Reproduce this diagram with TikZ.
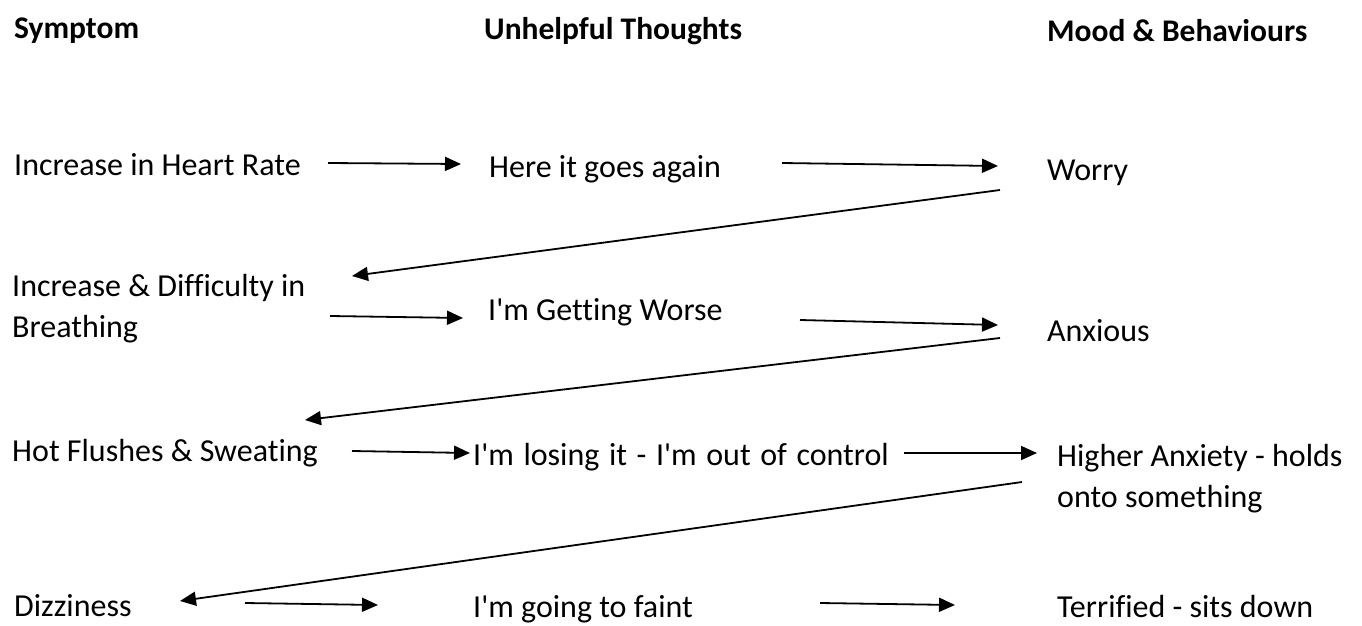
\documentclass[tikz,border=0pt]{standalone}
\usepackage{fontspec}
\setmainfont{Carlito}[Ligatures={TeXOff,CommonOff}]
\usetikzlibrary{arrows.meta}
\tikzset{
  txt/.style={inner sep=0pt, anchor=base west, font=\fontsize{32}{41}\selectfont, align=left},
  head/.style={txt, font=\fontsize{31.5}{41}\selectfont\bfseries},
  arr/.style={line width=1.8pt, -{Triangle[length=16pt,width=14pt]}},
}
\begin{document}
\begin{tikzpicture}[x=1pt,y=-1pt]
\useasboundingbox (0,0) rectangle (1362,626);
% headings
\node[head] (h1) at (14,38) {Symptom};
\node[head] (h2) at (484,40) {Unhelpful Thoughts};
\node[head] (h3) at (1047,42) {Mood \& Behaviours};
% rows
\node[txt] (s1) at (14,175) {Increase in Heart Rate};
\node[txt] (t1) at (489,177) {Here it goes again};
\node[txt] (m1) at (1047,180) {Worry};
\node[txt] (s2) at (12,337) {Increase \& Difficulty in\\Breathing};
\node[txt] (t2) at (488,320) {I'm Getting Worse};
\node[txt] (m2) at (1047,341) {Anxious};
\node[txt] (s3) at (12,461) {Hot Flushes \& Sweating};
\node[txt] (t3) at (473,465) {\spaceskip=0.3em\relax I'm losing it - I'm out of control};
\node[txt] (m3) at (1057,507) {Higher Anxiety - holds\\onto something};
\node[txt] (s4) at (14,616) {Dizziness};
\node[txt] (t4) at (473,617) {I'm going to faint};
\node[txt] (m4) at (1057,617) {Terrified - sits down};
% arrows
\draw[arr] ([shift={(314,-12)}]s1.base west) -- ([shift={(-28,-13)}]t1.base west);
\draw[arr] ([shift={(293,-14)}]t1.base west) -- ([shift={(-49,-14)}]m1.base west);
\draw[arr] ([shift={(-47,10)}]m1.base west) -- ([shift={(340,-61)}]s2.base west);
\draw[arr] ([shift={(318,-21)}]s2.base west) -- ([shift={(-25,-2)}]t2.base west);
\draw[arr] ([shift={(312,0)}]t2.base west) -- ([shift={(-49,-16)}]m2.base west);
\draw[arr] ([shift={(-47,-3)}]m2.base west) -- ([shift={(293,-41)}]s3.base west);
\draw[arr] ([shift={(340,-10)}]s3.base west) -- ([shift={(-3,-12)}]t3.base west);
\draw[arr] ([shift={(431,-12)}]t3.base west) -- ([shift={(-20,-54)}]m3.base west);
\draw[arr] ([shift={(-35,-25)}]m3.base west) -- ([shift={(166,-15)}]s4.base west);
\draw[arr] ([shift={(231,-13)}]s4.base west) -- ([shift={(-95,-12)}]t4.base west);
\draw[arr] ([shift={(347,-14)}]t4.base west) -- ([shift={(-102,-12)}]m4.base west);
\end{tikzpicture}
\end{document}
